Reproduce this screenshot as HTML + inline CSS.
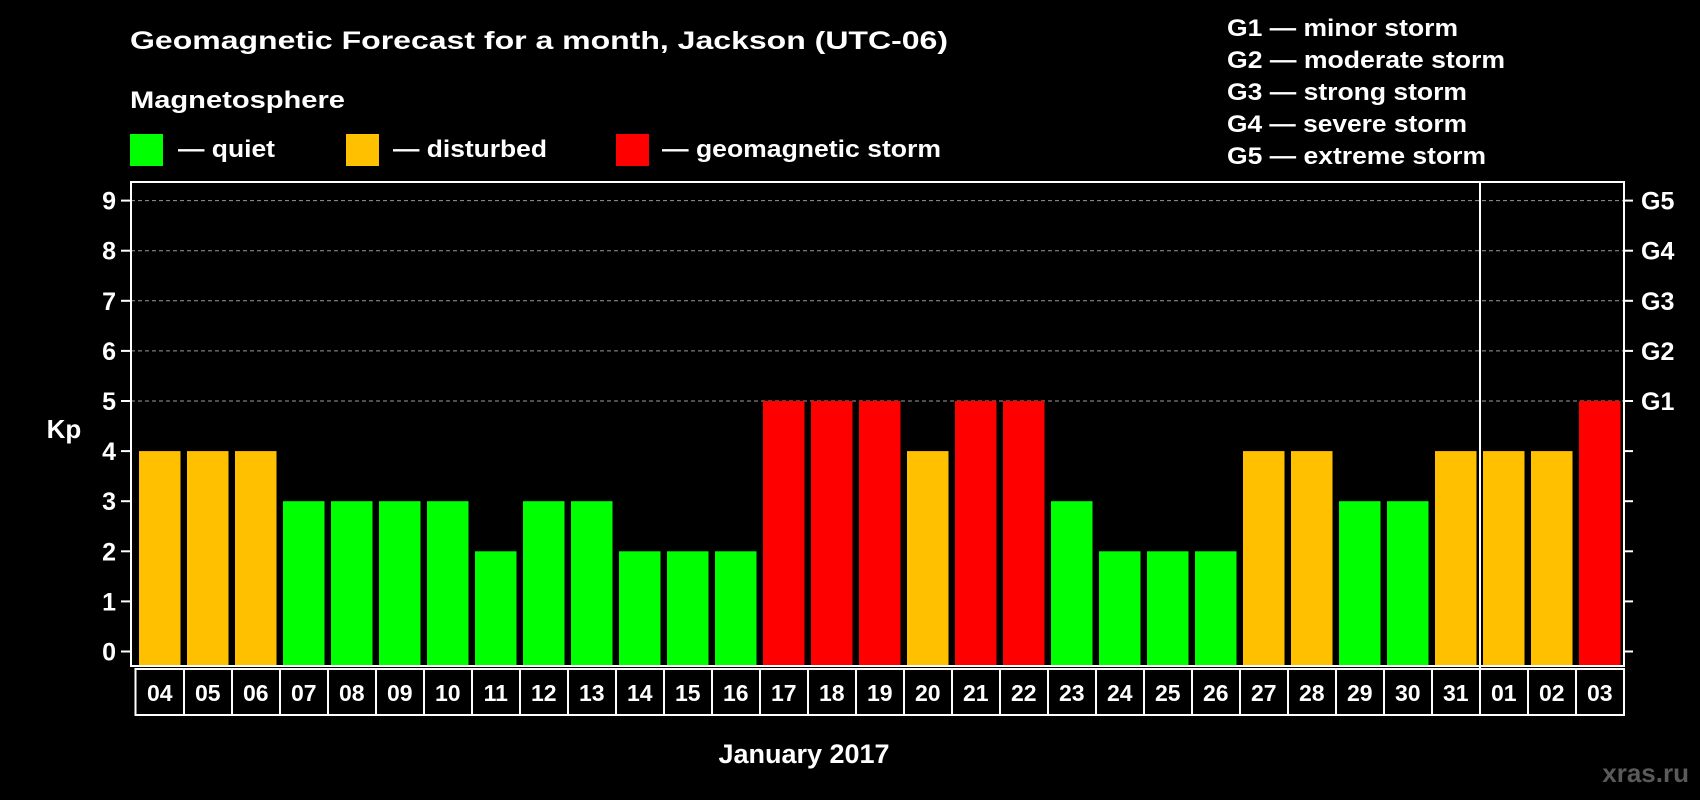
<!DOCTYPE html>
<html><head><meta charset="utf-8"><style>
html,body{margin:0;padding:0;background:#000;width:1700px;height:800px;overflow:hidden}
svg{display:block}
text{font-family:"Liberation Sans",Arial,sans-serif;font-weight:bold;fill:#fff}
</style></head><body>
<svg id="chart" width="1700" height="800" viewBox="0 0 1700 800">
<text x="130" y="49" font-size="25" textLength="818" lengthAdjust="spacingAndGlyphs">Geomagnetic Forecast for a month, Jackson (UTC-06)</text>
<text x="130" y="108" font-size="24" textLength="215" lengthAdjust="spacingAndGlyphs">Magnetosphere</text>
<g>
<rect x="130" y="134" width="33" height="32" fill="#00ff00"/>
<text x="178" y="157" font-size="24" textLength="97" lengthAdjust="spacingAndGlyphs">— quiet</text></g>
<g>
<rect x="346" y="134" width="33" height="32" fill="#ffc000"/>
<text x="393" y="157" font-size="24" textLength="154" lengthAdjust="spacingAndGlyphs">— disturbed</text></g>
<g>
<rect x="616" y="134" width="33" height="32" fill="#ff0000"/>
<text x="662" y="157" font-size="24" textLength="279" lengthAdjust="spacingAndGlyphs">— geomagnetic storm</text></g>
<g font-size="24">
<text x="1227" y="36" textLength="231" lengthAdjust="spacingAndGlyphs">G1 — minor storm</text>
<text x="1227" y="68" textLength="278" lengthAdjust="spacingAndGlyphs">G2 — moderate storm</text>
<text x="1227" y="100" textLength="240" lengthAdjust="spacingAndGlyphs">G3 — strong storm</text>
<text x="1227" y="132" textLength="240" lengthAdjust="spacingAndGlyphs">G4 — severe storm</text>
<text x="1227" y="164" textLength="259" lengthAdjust="spacingAndGlyphs">G5 — extreme storm</text>
</g>
<text x="64" y="438" font-size="26" text-anchor="middle">Kp</text>
<text x="804" y="763" font-size="27" text-anchor="middle">January 2017</text>
<text x="1689" y="782" font-size="26" text-anchor="end" style="fill:#5a5a5a">xras.ru</text>
<g id="grid"></g><g id="bars"></g><g id="axes"></g>
</svg>
<script>
var days=["04","05","06","07","08","09","10","11","12","13","14","15","16","17","18","19","20","21","22","23","24","25","26","27","28","29","30","31","01","02","03"];
var kpValues=[4,4,4,3,3,3,3,2,3,3,2,2,2,5,5,5,4,5,5,3,2,2,2,4,4,3,3,4,4,4,5];
var yTicks=[0,1,2,3,4,5,6,7,8,9];
var gLabels=["G1","G2","G3","G4","G5"];
var gLevels=[5,6,7,8,9];
var monthBreakIndex=28;

var NS="http://www.w3.org/2000/svg";
var L=131,R=1624,T=182,B=666,Y0=651.5,UNIT=50.1,X0=139,SLOT=48,BW=41.5;
function y(v){return Y0-v*UNIT;}
function x(i){return X0+i*SLOT;}
function mk(tag,attrs,parent){var e=document.createElementNS(NS,tag);for(var k in attrs)e.setAttribute(k,attrs[k]);parent.appendChild(e);return e;}
function color(v){return v>=5?"#ff0000":(v>=4?"#ffc000":"#00ff00");}
var grid=document.getElementById("grid"),bars=document.getElementById("bars"),axes=document.getElementById("axes");

yTicks.forEach(function(t){
  var yy=y(t);
  if(t>=5){var gl=mk("line",{x1:L,x2:R,y1:yy,y2:yy,stroke:"#9a9a9a","stroke-width":1,"stroke-dasharray":"4,3"},grid);
  
  }
  var tl=mk("line",{x1:L-10,x2:L,y1:yy,y2:yy,stroke:"#fff","stroke-width":2},axes);
  
  
  var tr=mk("line",{x1:R,x2:R+9,y1:yy,y2:yy,stroke:"#fff","stroke-width":2},axes);
  
  
  var tx=mk("text",{x:116,y:yy+9,"font-size":25,"text-anchor":"end"},axes);
  tx.textContent=t;
  
  
});
gLabels.forEach(function(g,i){
  var t=mk("text",{x:1641,y:y(gLevels[i])+9,"font-size":25},axes);
  t.textContent=g;
  
  
});
kpValues.forEach(function(v,i){
  var r=mk("rect",{x:x(i),y:y(v),width:BW,height:y(0)-y(v)+14,fill:color(v)},bars);
  
  
});
// frame
var fr=mk("rect",{x:L,y:T,width:R-L,height:B-T,fill:"none",stroke:"#fff","stroke-width":2},axes);


var sep=mk("line",{x1:x(monthBreakIndex)-3,x2:x(monthBreakIndex)-3,y1:T,y2:715,stroke:"#fff","stroke-width":2},axes);


// day label boxes
var bx=mk("rect",{x:135.5,y:669,width:x(days.length)-3-135.5,height:46,fill:"none",stroke:"#fff","stroke-width":2},axes);


days.forEach(function(d,i){
  if(i>0){var dl=mk("line",{x1:x(i)-3,x2:x(i)-3,y1:669,y2:715,stroke:"#fff","stroke-width":2},axes);
  
  }
  var t=mk("text",{x:x(i)+BW/2,y:701,"font-size":23,"text-anchor":"middle"},axes);
  t.textContent=d;
  
  
});
</script>
</body></html>
